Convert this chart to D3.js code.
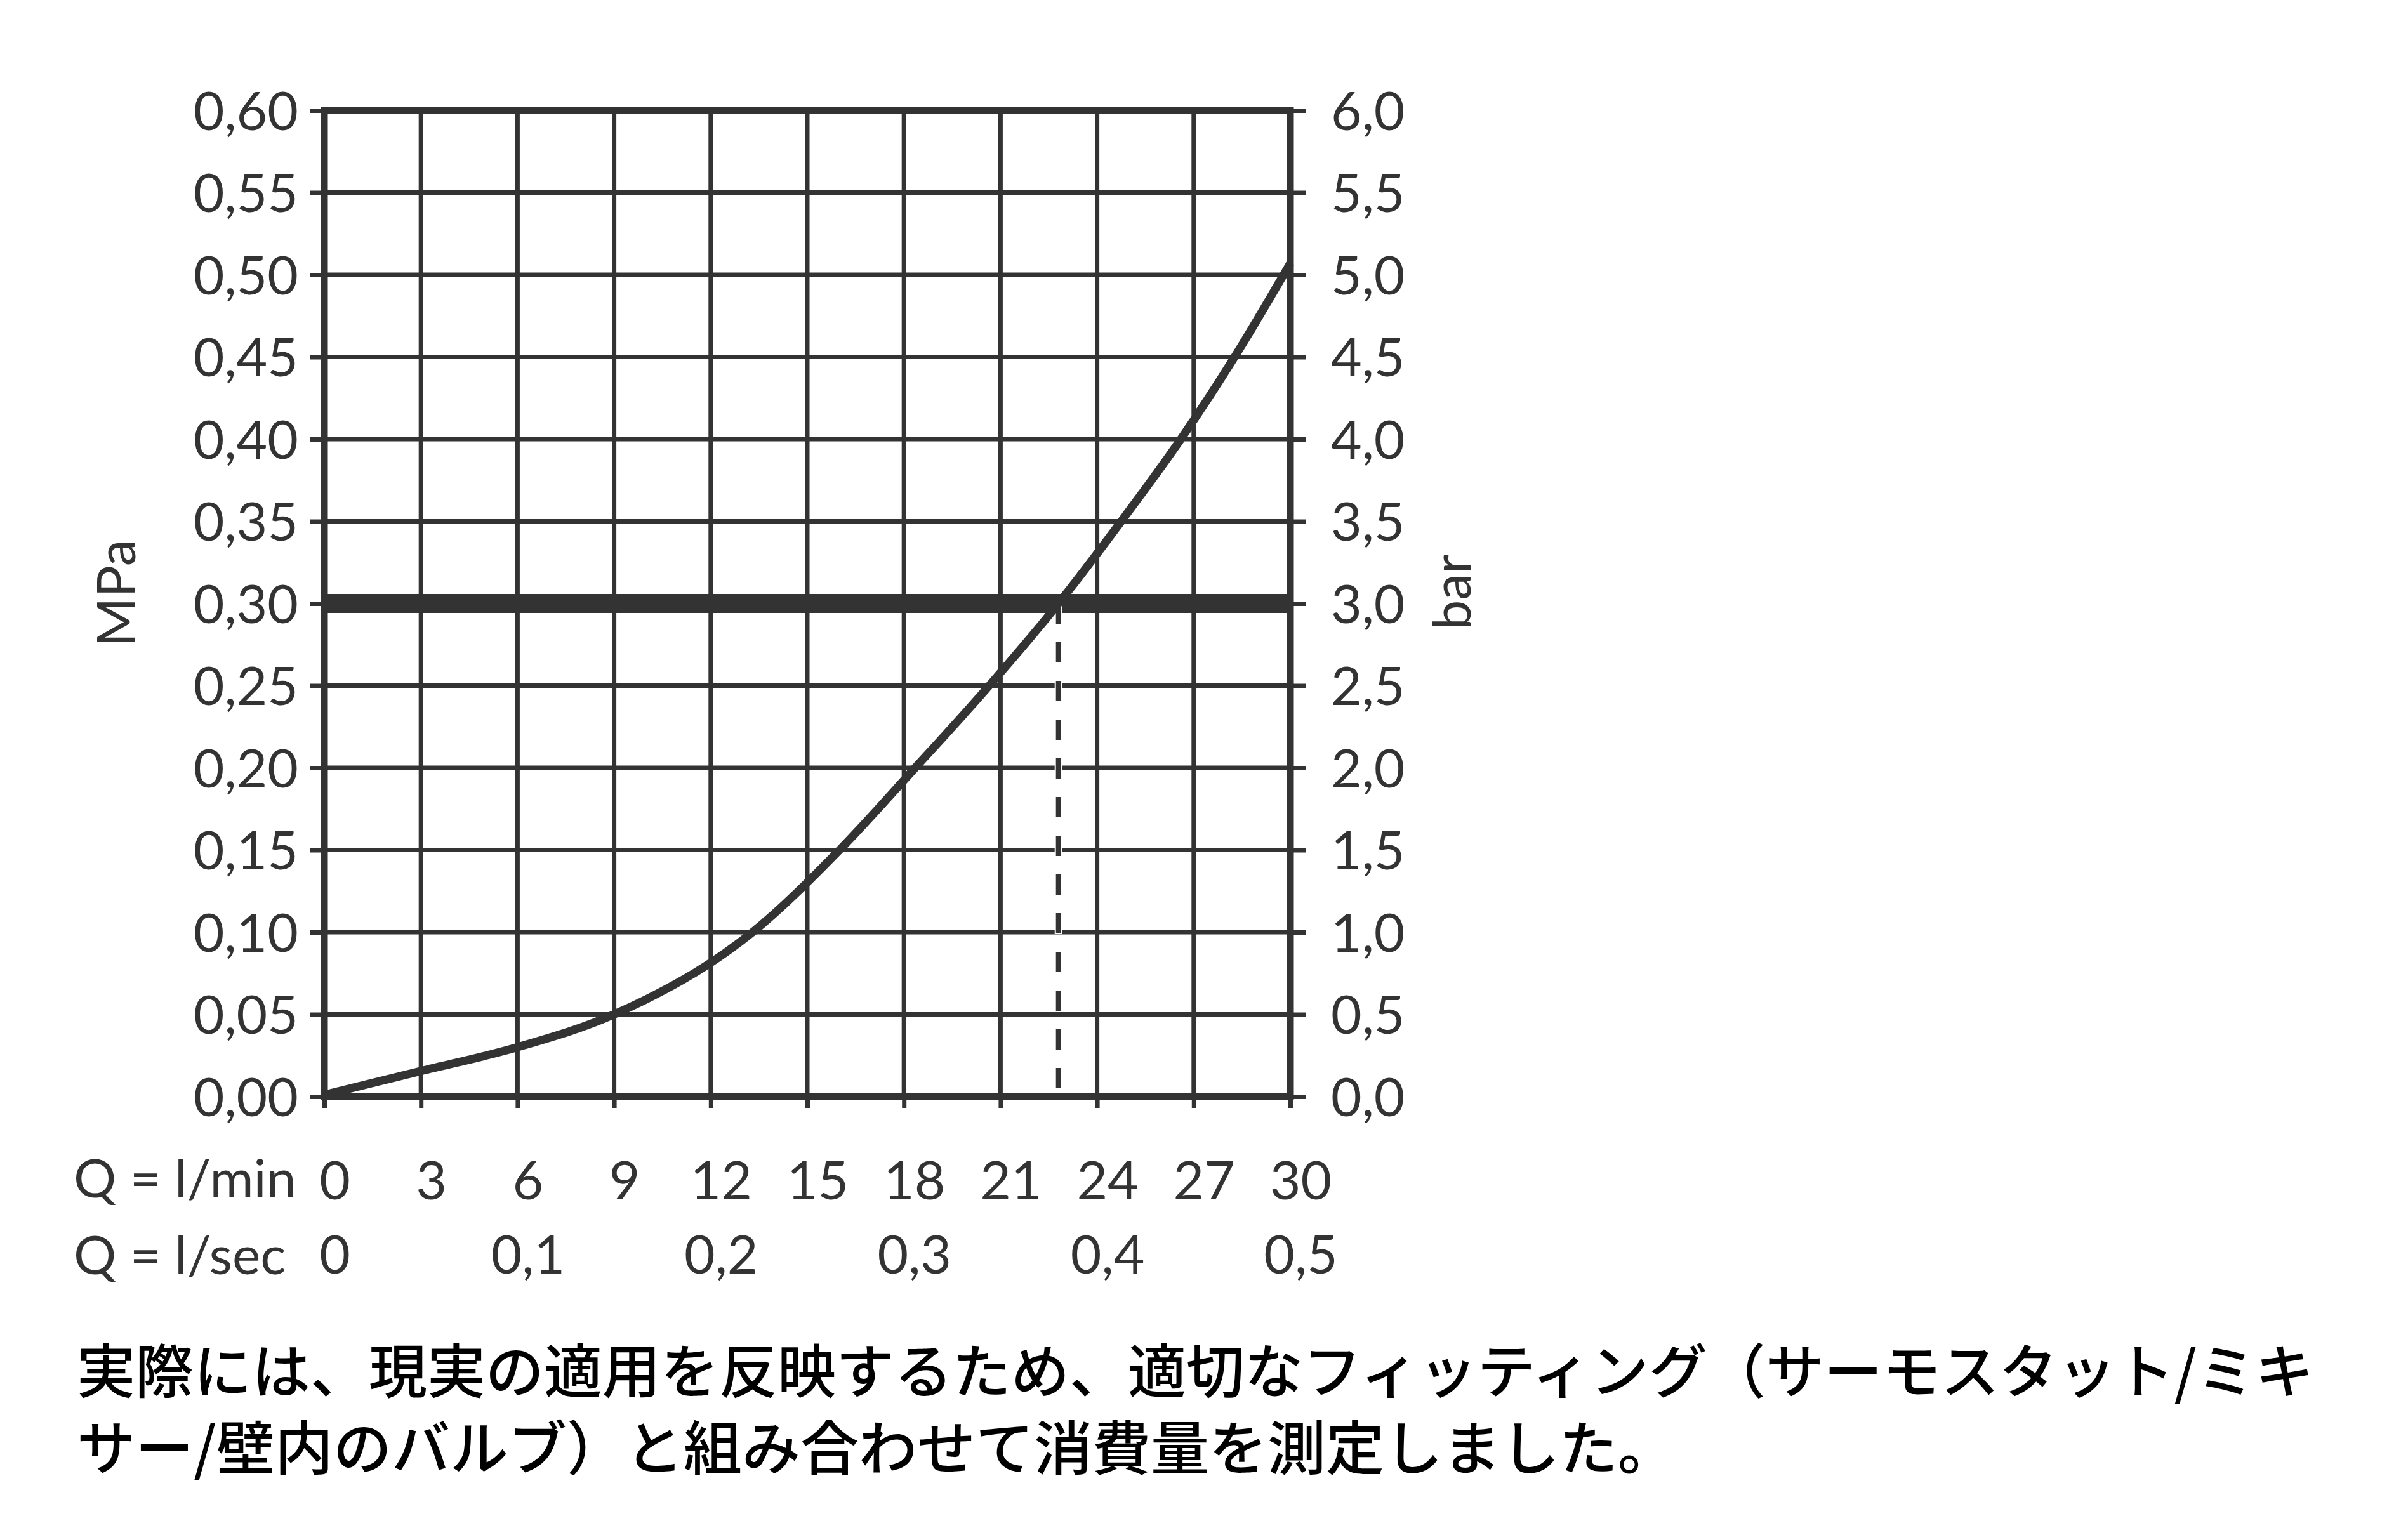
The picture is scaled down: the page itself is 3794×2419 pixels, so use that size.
<!DOCTYPE html>
<html>
<head>
<meta charset="utf-8">
<script src="https://cdn.jsdelivr.net/npm/d3@7"></script>
<style>
  html, body { margin: 0; padding: 0; background: #ffffff; }
  svg { display: block; }
</style>
</head>
<body>
<script>
// ---------------- data ----------------
const flowLmin = [0, 3, 6, 9, 13.3, 16.0, 18.35, 20.65, 22.8, 24.75, 26.6, 28.27, 30];
const pressureMPa = [0.001, 0.0155, 0.030, 0.050, 0.100, 0.150, 0.200, 0.250, 0.300, 0.350, 0.400, 0.450, 0.507];
const limitMPa = 0.30;
const limitFlow = 22.8;

const mpaTicks = [0, 0.05, 0.10, 0.15, 0.20, 0.25, 0.30, 0.35, 0.40, 0.45, 0.50, 0.55, 0.60];
const mpaLabels = ["0,00", "0,05", "0,10", "0,15", "0,20", "0,25", "0,30", "0,35", "0,40", "0,45", "0,50", "0,55", "0,60"];
const barTicks = [0, 0.5, 1, 1.5, 2, 2.5, 3, 3.5, 4, 4.5, 5, 5.5, 6];
const barLabels = ["0,0", "0,5", "1,0", "1,5", "2,0", "2,5", "3,0", "3,5", "4,0", "4,5", "5,0", "5,5", "6,0"];
const lminTicks = [0, 3, 6, 9, 12, 15, 18, 21, 24, 27, 30];
const lminLabels = ["0", "3", "6", "9", "12", "15", "18", "21", "24", "27", "30"];
const lsecTicks = [0, 6, 12, 18, 24, 30];
const lsecLabels = ["0", "0,1", "0,2", "0,3", "0,4", "0,5"];

const yTitleLeft = "MPa";
const yTitleRight = "bar";
const xTitleMin = "Q = l/min";
const xTitleSec = "Q = l/sec";
const captionLines = [
  "実際には、現実の適用を反映するため、適切なフィッティング（サーモスタット/ミキ",
  "サー/壁内のバルブ）と組み合わせて消費量を測定しました。"
];

// ---------------- layout ----------------
const W = 3794, H = 2419;
const L = 511, R = 2033, T = 174, B = 1728;
const ink = "#333333";
const font = "Lato, 'Open Sans', sans-serif";
const fs = 84;

const svg = d3.select("body").append("svg").attr("width", W).attr("height", H);
svg.append("rect").attr("width", W).attr("height", H).attr("fill", "#ffffff");

const x = d3.scaleLinear().domain([0, 30]).range([L, R]);
const y = d3.scaleLinear().domain([0, 0.6]).range([B, T]);
const yBar = d3.scaleLinear().domain([0, 6]).range([B, T]);

// grid
const grid = svg.append("g").attr("stroke", ink).attr("stroke-width", 7);
grid.selectAll("line.v").data(lminTicks.slice(1, -1)).join("line")
  .attr("x1", d => x(d)).attr("x2", d => x(d)).attr("y1", y(0)).attr("y2", y(0.6));
grid.selectAll("line.h").data(mpaTicks.slice(1, -1)).join("line")
  .attr("y1", d => y(d)).attr("y2", d => y(d)).attr("x1", x(0)).attr("x2", x(30));

// axes
function styleAxis(g, sw) {
  g.select(".domain").remove();
  g.selectAll(".tick line").attr("stroke", ink).attr("stroke-width", sw);
  g.selectAll(".tick text").attr("fill", ink).style("font-family", font).style("font-size", fs + "px");
}

const axL = svg.append("g").attr("transform", `translate(${L},0)`)
  .call(d3.axisLeft(y).tickValues(mpaTicks).tickFormat((d, i) => mpaLabels[i]).tickSize(23).tickPadding(18));
styleAxis(axL, 7);
axL.selectAll(".tick text").attr("dy", "0.36em");

const axR = svg.append("g").attr("transform", `translate(${R},0)`)
  .call(d3.axisRight(yBar).tickValues(barTicks).tickFormat((d, i) => barLabels[i]).tickSize(25).tickPadding(39));
styleAxis(axR, 7);
axR.selectAll(".tick text").attr("dy", "0.36em");

const axB = svg.append("g").attr("transform", `translate(0,${B})`)
  .call(d3.axisBottom(x).tickValues(lminTicks).tickFormat((d, i) => lminLabels[i]).tickSize(18).tickPadding(84));
styleAxis(axB, 7);
axB.selectAll(".tick text").attr("dx", 16);

const axB2 = svg.append("g").attr("transform", `translate(0,${B})`)
  .call(d3.axisBottom(x).tickValues(lsecTicks).tickFormat((d, i) => lsecLabels[i]).tickSize(0).tickPadding(219));
styleAxis(axB2, 0);
axB2.selectAll(".tick line").remove();
axB2.selectAll(".tick text").attr("dx", 16);

// frame
svg.append("rect").attr("x", x(0)).attr("y", y(0.6))
  .attr("width", x(30) - x(0)).attr("height", y(0) - y(0.6))
  .attr("fill", "none").attr("stroke", ink).attr("stroke-width", 11);

// limit line
svg.append("line")
  .attr("x1", x(0)).attr("x2", x(30)).attr("y1", y(limitMPa)).attr("y2", y(limitMPa))
  .attr("stroke", ink).attr("stroke-width", 30);

// dashed drop line
svg.append("line")
  .attr("x1", x(limitFlow)).attr("x2", x(limitFlow)).attr("y1", y(limitMPa)).attr("y2", y(0))
  .attr("stroke", "#ffffff").attr("stroke-width", 12).attr("stroke-dasharray", "34,27").attr("stroke-dashoffset", 1);
svg.append("line")
  .attr("x1", x(limitFlow)).attr("x2", x(limitFlow)).attr("y1", y(limitMPa)).attr("y2", y(0))
  .attr("stroke", ink).attr("stroke-width", 8).attr("stroke-dasharray", "32,29");

// curve
const pts = flowLmin.map((f, i) => [f, pressureMPa[i]]);
svg.append("path").datum(pts)
  .attr("d", d3.line().x(d => x(d[0])).y(d => y(d[1])).curve(d3.curveMonotoneX))
  .attr("fill", "none").attr("stroke", ink).attr("stroke-width", 13).attr("stroke-linecap", "butt");

// axis titles
svg.append("text").text(yTitleLeft)
  .attr("transform", `translate(213,935) rotate(-90)`)
  .attr("text-anchor", "middle").attr("fill", ink)
  .style("font-family", font).style("font-size", fs + "px");
svg.append("text").text(yTitleRight)
  .attr("transform", `translate(2317,933) rotate(-90)`)
  .attr("text-anchor", "middle").attr("fill", ink)
  .style("font-family", font).style("font-size", fs + "px");

svg.append("text").text(xTitleMin).attr("x", 116).attr("y", 1887)
  .attr("text-anchor", "start").attr("fill", ink)
  .style("font-family", font).style("font-size", fs + "px");
svg.append("text").text(xTitleSec).attr("x", 116).attr("y", 2008)
  .attr("text-anchor", "start").attr("fill", ink)
  .style("font-family", font).style("font-size", fs + "px");

// caption
svg.selectAll("text.caption").data(captionLines).join("text")
  .attr("class", "caption")
  .attr("x", 121).attr("y", (d, i) => 2195 + i * 121)
  .attr("fill", "#000000")
  .style("font-family", "'Noto Sans CJK JP', sans-serif")
  .style("font-weight", 500)
  .style("font-size", "92px")
  .text(d => d);
</script>
</body>
</html>
